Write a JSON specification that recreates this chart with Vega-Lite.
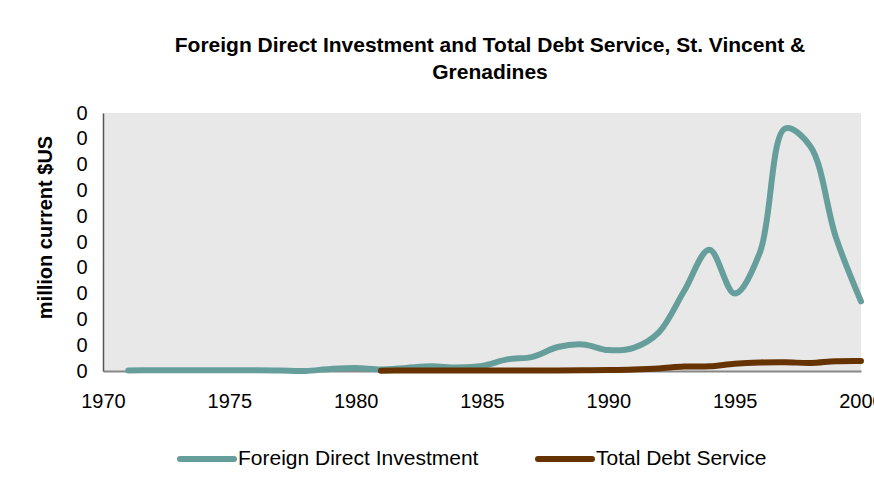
{
  "$schema": "https://vega.github.io/schema/vega-lite/v6.json",
  "width": 758,
  "height": 258,
  "autosize": {"type": "none"},
  "padding": {"left": 103, "top": 113, "right": 13, "bottom": 127},
  "background": "white",
  "config": {"font": "Liberation Sans", "view": {"fill": "#E8E8E8", "stroke": null}},
  "title": {
    "text": ["Foreign Direct Investment and Total Debt Service, St. Vincent &", "Grenadines"],
    "fontSize": 21,
    "fontWeight": "bold",
    "color": "black",
    "anchor": "middle",
    "lineHeight": 27,
    "offset": 20,
    "dx": 8
  },
  "data": {
    "values": [
      {"year": 1971, "series": "Foreign Direct Investment", "value": 0.0002},
      {"year": 1972, "series": "Foreign Direct Investment", "value": 0.0003},
      {"year": 1973, "series": "Foreign Direct Investment", "value": 0.0003},
      {"year": 1974, "series": "Foreign Direct Investment", "value": 0.0003},
      {"year": 1975, "series": "Foreign Direct Investment", "value": 0.0003},
      {"year": 1976, "series": "Foreign Direct Investment", "value": 0.0003},
      {"year": 1977, "series": "Foreign Direct Investment", "value": 0.0002},
      {"year": 1978, "series": "Foreign Direct Investment", "value": 0.0000},
      {"year": 1979, "series": "Foreign Direct Investment", "value": 0.0008},
      {"year": 1980, "series": "Foreign Direct Investment", "value": 0.0012},
      {"year": 1981, "series": "Foreign Direct Investment", "value": 0.0006},
      {"year": 1982, "series": "Foreign Direct Investment", "value": 0.0012},
      {"year": 1983, "series": "Foreign Direct Investment", "value": 0.0018},
      {"year": 1984, "series": "Foreign Direct Investment", "value": 0.0014},
      {"year": 1985, "series": "Foreign Direct Investment", "value": 0.0020},
      {"year": 1986, "series": "Foreign Direct Investment", "value": 0.0045},
      {"year": 1987, "series": "Foreign Direct Investment", "value": 0.0055},
      {"year": 1988, "series": "Foreign Direct Investment", "value": 0.0093},
      {"year": 1989, "series": "Foreign Direct Investment", "value": 0.0103},
      {"year": 1990, "series": "Foreign Direct Investment", "value": 0.0081},
      {"year": 1991, "series": "Foreign Direct Investment", "value": 0.0090},
      {"year": 1992, "series": "Foreign Direct Investment", "value": 0.0150},
      {"year": 1993, "series": "Foreign Direct Investment", "value": 0.0310},
      {"year": 1994, "series": "Foreign Direct Investment", "value": 0.0470},
      {"year": 1995, "series": "Foreign Direct Investment", "value": 0.0300},
      {"year": 1996, "series": "Foreign Direct Investment", "value": 0.0460},
      {"year": 1997, "series": "Foreign Direct Investment", "value": 0.0940},
      {"year": 1998, "series": "Foreign Direct Investment", "value": 0.0870},
      {"year": 1999, "series": "Foreign Direct Investment", "value": 0.0520},
      {"year": 2000, "series": "Foreign Direct Investment", "value": 0.0270},
      {"year": 1981, "series": "Total Debt Service", "value": 0.0001},
      {"year": 1982, "series": "Total Debt Service", "value": 0.0002},
      {"year": 1983, "series": "Total Debt Service", "value": 0.0002},
      {"year": 1984, "series": "Total Debt Service", "value": 0.0002},
      {"year": 1985, "series": "Total Debt Service", "value": 0.0002},
      {"year": 1986, "series": "Total Debt Service", "value": 0.0002},
      {"year": 1987, "series": "Total Debt Service", "value": 0.0002},
      {"year": 1988, "series": "Total Debt Service", "value": 0.0002},
      {"year": 1989, "series": "Total Debt Service", "value": 0.0003},
      {"year": 1990, "series": "Total Debt Service", "value": 0.0004},
      {"year": 1991, "series": "Total Debt Service", "value": 0.0006},
      {"year": 1992, "series": "Total Debt Service", "value": 0.0010},
      {"year": 1993, "series": "Total Debt Service", "value": 0.0017},
      {"year": 1994, "series": "Total Debt Service", "value": 0.0018},
      {"year": 1995, "series": "Total Debt Service", "value": 0.0028},
      {"year": 1996, "series": "Total Debt Service", "value": 0.0033},
      {"year": 1997, "series": "Total Debt Service", "value": 0.0034},
      {"year": 1998, "series": "Total Debt Service", "value": 0.0031},
      {"year": 1999, "series": "Total Debt Service", "value": 0.0038},
      {"year": 2000, "series": "Total Debt Service", "value": 0.0039}
    ]
  },
  "mark": {"type": "line", "interpolate": "catmull-rom", "strokeWidth": 6, "strokeCap": "round"},
  "encoding": {
    "x": {
      "field": "year",
      "type": "quantitative",
      "scale": {"domain": [1970, 2000], "nice": false, "zero": false},
      "axis": {
        "values": [1970, 1975, 1980, 1985, 1990, 1995, 2000],
        "format": "d",
        "labelFontSize": 20,
        "labelColor": "black",
        "labelPadding": 20,
        "labelFlush": false,
        "labelOverlap": false,
        "ticks": false,
        "grid": false,
        "domainColor": "#888888",
        "domainWidth": 2,
        "title": null
      }
    },
    "y": {
      "field": "value",
      "type": "quantitative",
      "scale": {"domain": [0, 0.1], "nice": false},
      "axis": {
        "values": [0, 0.01, 0.02, 0.03, 0.04, 0.05, 0.06, 0.07, 0.08, 0.09, 0.1],
        "format": ".0f",
        "labelFontSize": 20,
        "labelColor": "black",
        "labelPadding": 16,
        "labelFlush": false,
        "labelOverlap": false,
        "ticks": false,
        "grid": false,
        "domainColor": "#555555",
        "domainWidth": 1.5,
        "title": "million current $US",
        "titleFontSize": 20,
        "titleFontWeight": "bold",
        "titleColor": "black",
        "titlePadding": 20,
        "titleY": 114
      }
    },
    "color": {
      "field": "series",
      "type": "nominal",
      "scale": {"domain": ["Foreign Direct Investment", "Total Debt Service"], "range": ["#669E9B", "#663300"]},
      "legend": {
        "orient": "none",
        "legendX": 74,
        "legendY": 316,
        "direction": "horizontal",
        "title": null,
        "symbolType": "stroke",
        "symbolSize": 2916,
        "symbolStrokeWidth": 6,
        "labelOffset": 1,
        "labelFontSize": 21,
        "labelLimit": 500,
        "labelColor": "black",
        "columnPadding": 47,
        "encode": {"symbols": {"update": {"strokeCap": {"value": "round"}}}}
      }
    }
  }
}
